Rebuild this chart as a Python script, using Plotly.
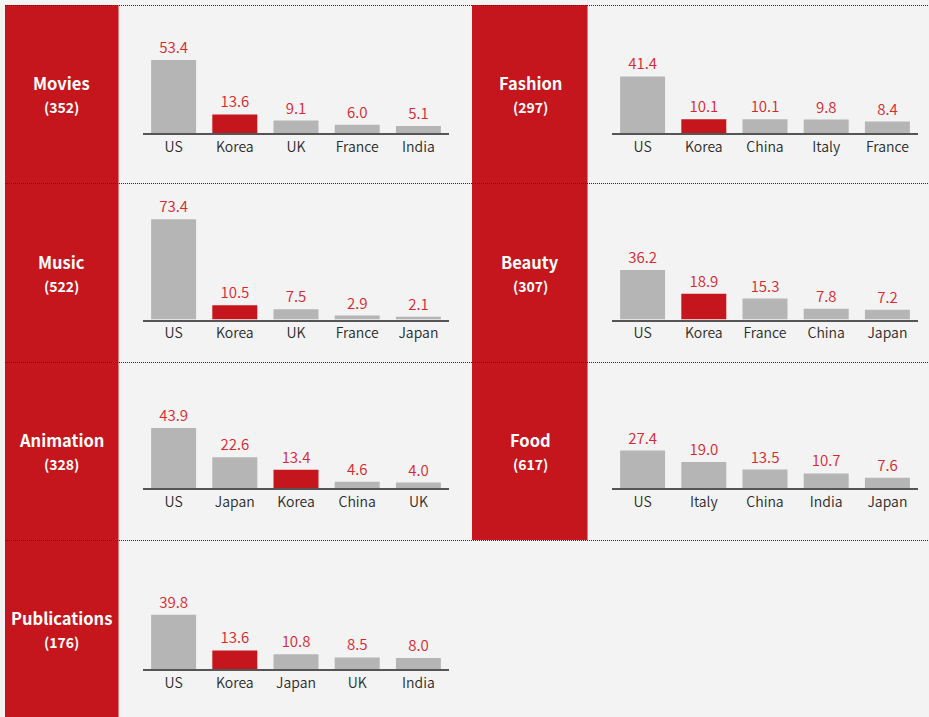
import plotly.graph_objects as go

# ---- data: share (%) of top-5 countries per content genre ----
genre_names = ["Movies", "Fashion", "Music", "Beauty", "Animation", "Food", "Publications"]
genre_counts = [352, 297, 522, 307, 328, 617, 176]

movies_countries = ["US", "Korea", "UK", "France", "India"]
movies_share = [53.4, 13.6, 9.1, 6.0, 5.1]

fashion_countries = ["US", "Korea", "China", "Italy", "France"]
fashion_share = [41.4, 10.1, 10.1, 9.8, 8.4]

music_countries = ["US", "Korea", "UK", "France", "Japan"]
music_share = [73.4, 10.5, 7.5, 2.9, 2.1]

beauty_countries = ["US", "Korea", "France", "China", "Japan"]
beauty_share = [36.2, 18.9, 15.3, 7.8, 7.2]

animation_countries = ["US", "Japan", "Korea", "China", "UK"]
animation_share = [43.9, 22.6, 13.4, 4.6, 4.0]

food_countries = ["US", "Italy", "China", "India", "Japan"]
food_share = [27.4, 19.0, 13.5, 10.7, 7.6]

publications_countries = ["US", "Korea", "Japan", "UK", "India"]
publications_share = [39.8, 13.6, 10.8, 8.5, 8.0]

highlight_country = "Korea"

panel_countries = [movies_countries, fashion_countries, music_countries, beauty_countries,
                   animation_countries, food_countries, publications_countries]
panel_shares = [movies_share, fashion_share, music_share, beauty_share,
                animation_share, food_share, publications_share]

# ---- layout geometry (pixels) ----
W, H = 929, 717
FONT = "Noto Sans CJK KR"
RED = "#c5161d"
GRAY_BAR = "#b5b5b5"
BG = "#f3f3f3"
LABEL_RED = "#d8252e"

row_edges = [5, 183, 362, 540, 717]
row_baselines = [133, 319.5, 488, 669]
box_x = [(5, 119), (472, 588)]          # red title boxes per column
axis_x = [(143, 449), (612, 918)]        # bar-chart x extents per column
slots = [(0, 0), (1, 0), (0, 1), (1, 1), (0, 2), (1, 2), (0, 3)]  # (col, row)
PX_PER_UNIT = 1.365
PLOT_H = 115


def py(px):
    return 1 - px / H


fig = go.Figure()
shapes = []
annotations = []

for i, (name, count, cats, vals) in enumerate(zip(genre_names, genre_counts, panel_countries, panel_shares)):
    col, row = slots[i]
    suffix = "" if i == 0 else str(i + 1)
    base = row_baselines[row]

    colors = [RED if c == highlight_country else GRAY_BAR for c in cats]
    fig.add_trace(go.Bar(
        x=cats, y=vals,
        marker=dict(color=colors, line=dict(width=0)),
        texttemplate="%{y:.1f}", textposition="outside",
        textfont=dict(family=FONT, size=15, color=LABEL_RED, weight=350),
        constraintext="none", cliponaxis=False,
        xaxis="x" + suffix, yaxis="y" + suffix,
        hoverinfo="skip", showlegend=False,
    ))

    x0, x1 = axis_x[col]
    fig.update_layout(**{
        "xaxis" + suffix: dict(
            domain=[x0 / W, x1 / W], anchor="y" + suffix, type="category",
            range=[-0.5, 4.5], showline=True, linecolor="#555555", linewidth=2,
            ticks="", showgrid=False, zeroline=False, fixedrange=True,
            tickfont=dict(family=FONT, size=14, color="#2a2a2a", weight=350),
        ),
        "yaxis" + suffix: dict(
            domain=[py(base), py(base - PLOT_H)], anchor="x" + suffix,
            range=[0, PLOT_H / PX_PER_UNIT], visible=False, fixedrange=True,
        ),
    })

    # red title box with a lighter right edge
    bx0, bx1 = box_x[col]
    top, bottom = row_edges[row], row_edges[row + 1]
    shapes.append(dict(type="rect", xref="paper", yref="paper",
                       x0=bx0 / W, x1=bx1 / W, y0=py(bottom), y1=py(top),
                       fillcolor=RED, line=dict(width=0), layer="below"))
    shapes.append(dict(type="line", xref="paper", yref="paper",
                       x0=(bx1 - 0.5) / W, x1=(bx1 - 0.5) / W, y0=py(bottom), y1=py(top),
                       line=dict(color="#e07a7e", width=1)))
    cx = (bx0 + bx1) / 2 / W
    cy = (top + bottom) / 2
    annotations.append(dict(xref="paper", yref="paper", x=cx, y=py(cy - 11),
                            text=f"<b>{name}</b>", showarrow=False,
                            font=dict(family=FONT, size=16.5, color="white"),
                            xanchor="center", yanchor="middle"))
    annotations.append(dict(xref="paper", yref="paper", x=cx, y=py(cy + 13),
                            text=f"<b>({count})</b>", showarrow=False,
                            font=dict(family=FONT, size=14, color="white"),
                            xanchor="center", yanchor="middle"))

# dotted row separators
for y in row_edges[:-1]:
    shapes.append(dict(type="line", xref="paper", yref="paper",
                       x0=5 / W, x1=1, y0=py(y + 0.5), y1=py(y + 0.5),
                       line=dict(color="#2a2a2a", width=1, dash="1px,1px")))

fig.update_layout(
    width=W, height=H,
    margin=dict(l=0, r=0, t=0, b=0),
    paper_bgcolor=BG, plot_bgcolor="rgba(0,0,0,0)",
    bargap=0.265,
    shapes=shapes, annotations=annotations,
    font=dict(family=FONT),
)

fig.write_html("out.html", config={"displayModeBar": False})
